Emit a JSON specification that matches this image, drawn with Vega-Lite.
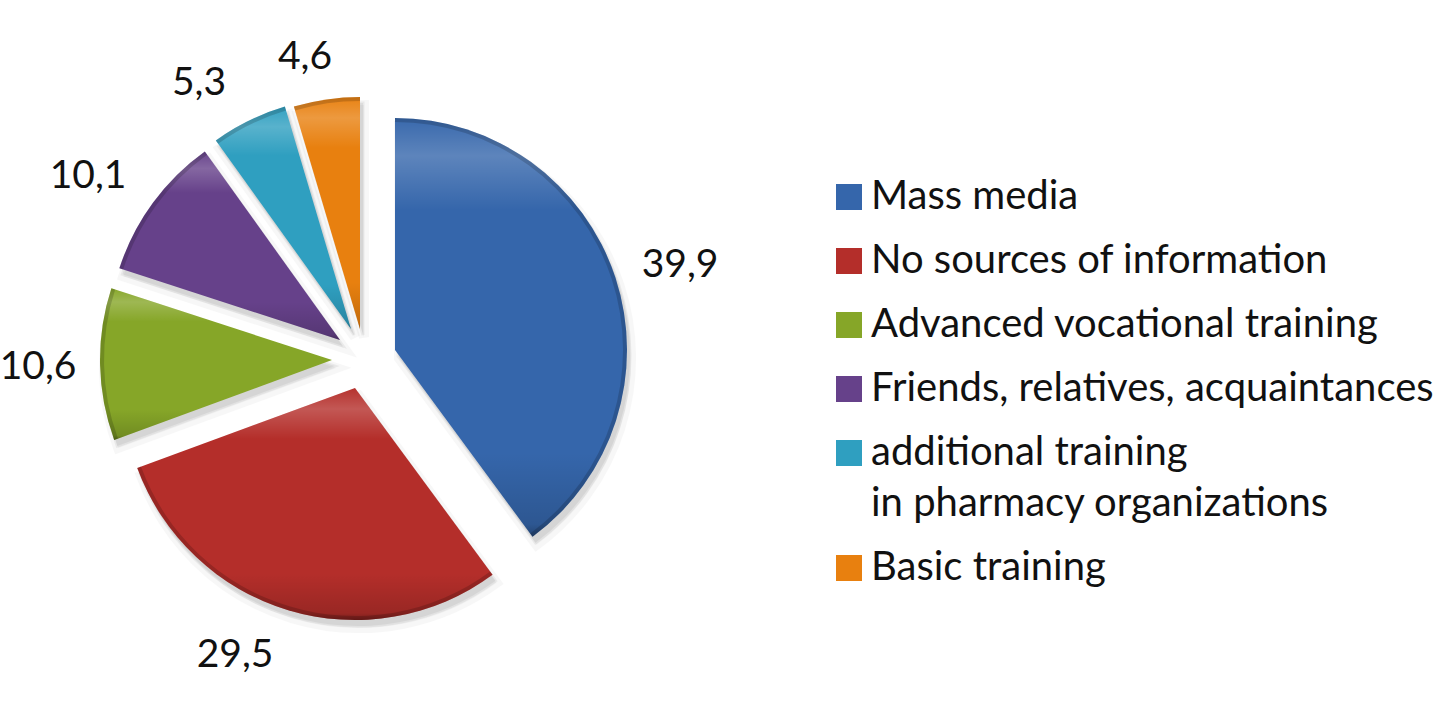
{
"$schema":"https://vega.github.io/schema/vega-lite/v6.json",
"width":1440,"height":714,"padding":0,"autosize":{"type":"none"},
"background":"white",
"data":{"values":[
{"rank":1,"source":"Mass media","share":39.9,"label":"39,9"},
{"rank":2,"source":"No sources of information","share":29.5,"label":"29,5"},
{"rank":3,"source":"Advanced vocational training","share":10.6,"label":"10,6"},
{"rank":4,"source":"Friends, relatives, acquaintances","share":10.1,"label":"10,1"},
{"rank":5,"source":"additional training in pharmacy organizations","share":5.3,"label":"5,3"},
{"rank":6,"source":"Basic training","share":4.6,"label":"4,6"}
]},
"transform":[{"stack":"share","sort":[{"field":"rank"}],"as":["s0","s1"]}],
"config":{"view":{"stroke":null},"font":"Lato","style":{"guide-label":{"lineHeight":51}}},
"resolve":{"scale":{"x":"independent","y":"independent"}},
"layer":[
{"mark":{"type":"arc","outerRadius":232,"fill":"#000000","opacity":0.06,"xOffset":4,"yOffset":8,"stroke":"#000000","strokeWidth":10,"strokeOpacity":0.5},
"encoding":{
"x":{"field":"rank","type":"quantitative","axis":null,"scale":{"domain":[1,2,3,4,5,6],"range":[395,355,332,340,351,360],"zero":false,"nice":false}},
"y":{"field":"rank","type":"quantitative","axis":null,"scale":{"domain":[1,2,3,4,5,6],"range":[350,388,360,340,329,329],"zero":false,"nice":false}},
"theta":{"field":"s0","type":"quantitative","scale":{"domain":[0,100],"range":[0,6.283185]}},
"theta2":{"field":"s1"}}},
{"mark":{"type":"arc","outerRadius":232,"fill":"#000000","opacity":0.1,"xOffset":3,"yOffset":6,"stroke":"#000000","strokeWidth":3,"strokeOpacity":0.5},
"encoding":{
"x":{"field":"rank","type":"quantitative","axis":null,"scale":{"domain":[1,2,3,4,5,6],"range":[395,355,332,340,351,360],"zero":false,"nice":false}},
"y":{"field":"rank","type":"quantitative","axis":null,"scale":{"domain":[1,2,3,4,5,6],"range":[350,388,360,340,329,329],"zero":false,"nice":false}},
"theta":{"field":"s0","type":"quantitative","scale":{"domain":[0,100],"range":[0,6.283185]}},
"theta2":{"field":"s1"}}},
{"mark":{"type":"arc","outerRadius":232},
"encoding":{
"x":{"field":"rank","type":"quantitative","axis":null,"scale":{"domain":[1,2,3,4,5,6],"range":[395,355,332,340,351,360],"zero":false,"nice":false}},
"y":{"field":"rank","type":"quantitative","axis":null,"scale":{"domain":[1,2,3,4,5,6],"range":[350,388,360,340,329,329],"zero":false,"nice":false}},
"theta":{"field":"s0","type":"quantitative","scale":{"domain":[0,100],"range":[0,6.283185]}},
"theta2":{"field":"s1"},
"color":{"field":"source","type":"nominal","sort":null,
"scale":{"domain":["Mass media","No sources of information","Advanced vocational training","Friends, relatives, acquaintances","additional training in pharmacy organizations","Basic training"],"range":["#3566ab","#b42e2a","#86a628","#66418a","#2f9fc0","#e8800f"]},
"legend":{"orient":"none","legendX":829,"legendY":177,"title":null,"symbolType":"square","symbolSize":676,"symbolOpacity":1,"labelFontSize":40,"labelFont":"Lato","labelColor":"#111111","labelLimit":620,"rowPadding":24,"labelOffset":2,
"labelExpr":"datum.label == 'additional training in pharmacy organizations' ? ['additional training','in pharmacy organizations'] : datum.label"}}}},
{"mark":{"type":"arc","outerRadius":232,
"fill":{"gradient":"linear","x1":0,"y1":0,"x2":0,"y2":1,"stops":[{"offset":0,"color":"rgba(255,255,255,0.02)"},{"offset":0.09,"color":"rgba(255,255,255,0.2)"},{"offset":0.22,"color":"rgba(255,255,255,0)"},{"offset":0.8,"color":"rgba(0,0,0,0)"},{"offset":0.97,"color":"rgba(0,0,0,0.15)"},{"offset":1,"color":"rgba(0,0,0,0.35)"}]}},
"encoding":{
"x":{"field":"rank","type":"quantitative","axis":null,"scale":{"domain":[1,2,3,4,5,6],"range":[395,355,332,340,351,360],"zero":false,"nice":false}},
"y":{"field":"rank","type":"quantitative","axis":null,"scale":{"domain":[1,2,3,4,5,6],"range":[350,388,360,340,329,329],"zero":false,"nice":false}},
"theta":{"field":"s0","type":"quantitative","scale":{"domain":[0,100],"range":[0,6.283185]}},
"theta2":{"field":"s1"}}},
{"mark":{"type":"arc","innerRadius":228,"outerRadius":232,"fill":"#000000","opacity":0.16},
"encoding":{
"x":{"field":"rank","type":"quantitative","axis":null,"scale":{"domain":[1,2,3,4,5,6],"range":[395,355,332,340,351,360],"zero":false,"nice":false}},
"y":{"field":"rank","type":"quantitative","axis":null,"scale":{"domain":[1,2,3,4,5,6],"range":[350,388,360,340,329,329],"zero":false,"nice":false}},
"theta":{"field":"s0","type":"quantitative","scale":{"domain":[0,100],"range":[0,6.283185]}},
"theta2":{"field":"s1"}}},
{"mark":{"type":"text","fontSize":39,"font":"Lato","color":"#111111","align":"center","baseline":"middle"},
"encoding":{
"x":{"field":"rank","type":"quantitative","axis":null,"scale":{"domain":[1,2,3,4,5,6],"range":[680,235,38,88,199,305],"zero":false,"nice":false}},
"y":{"field":"rank","type":"quantitative","axis":null,"scale":{"domain":[1,2,3,4,5,6],"range":[265,655,367,176,83,57],"zero":false,"nice":false}},
"text":{"field":"label","type":"nominal"}}}
]
}
